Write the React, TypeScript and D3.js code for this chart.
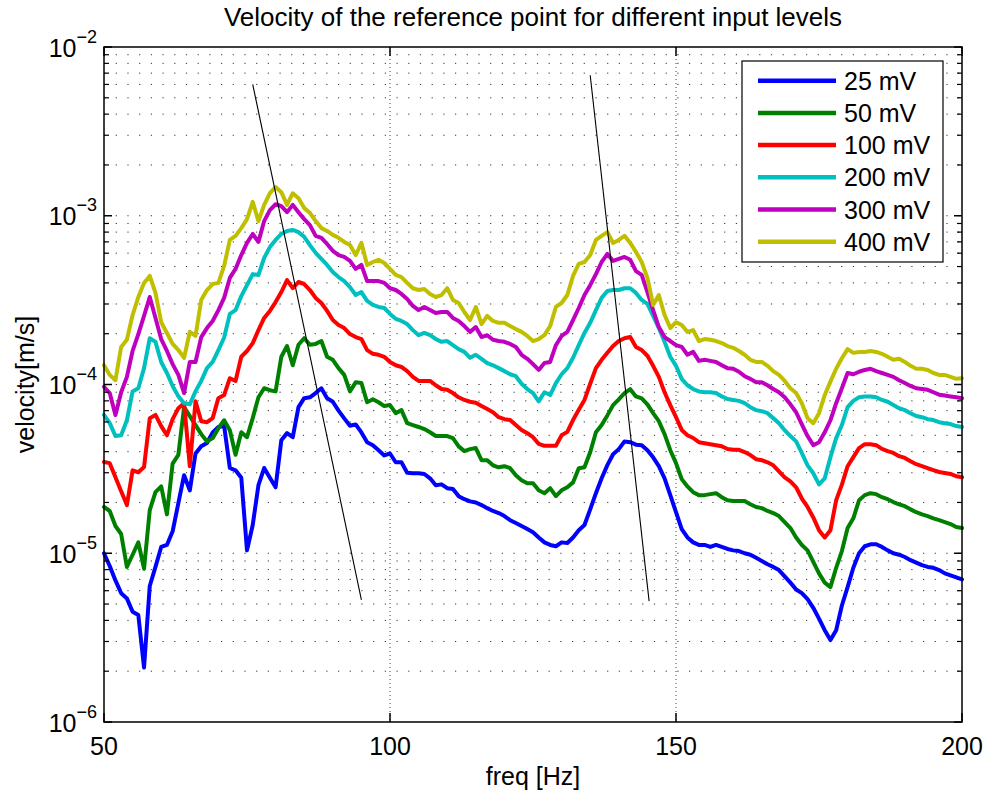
import React from "react";
import * as d3 from "d3";

// frequency axis, 1 Hz steps
const freq: number[] = d3.range(50, 201, 1);

const levels = ["25 mV", "50 mV", "100 mV", "200 mV", "300 mV", "400 mV"];
const colors = ["#0000ff", "#008000", "#ff0000", "#00bfbf", "#bf00bf", "#bfbf00"];

// velocity in µm/s (×1e-6 m/s), one value per Hz from 50 to 200
const v25 = [
  10.0, 8.4, 6.9, 5.8, 5.4, 4.5, 4.3, 2.1, 6.4, 8.3,
  10.9, 11.2, 13.5, 19.8, 29, 23.6, 39, 43, 45, 52,
  56, 57, 32, 31, 28, 10.4, 14.7, 25.3, 32, 28,
  24.6, 46.8, 51.5, 48.7, 73.4, 83, 84, 89, 95, 83,
  79, 70, 63, 57, 58, 52, 45.5, 43.7, 40.8, 38,
  39, 34.6, 34.6, 30, 29.8, 29.8, 29.5, 27.8, 25.3, 25.6,
  24.3, 24, 21.8, 20.9, 20.3, 20, 19.3, 18.5, 17.8, 17.3,
  16.6, 15.7, 15.1, 14.5, 13.9, 13.3, 12.4, 11.6, 11.2, 11.0,
  11.6, 11.5, 12.4, 13.7, 14.7, 18.2, 22.7, 27.8, 33.3, 38.6,
  41.4, 46, 45.5, 44, 43.7, 40.8, 37, 32.8, 27.8, 22.1,
  17.5, 13.9, 12.4, 11.6, 11.2, 11.2, 10.9, 11.2, 10.9, 10.6,
  10.4, 10.3, 10.0, 9.8, 9.4, 9.0, 8.6, 8.3, 7.95, 7.3,
  6.7, 6.1, 5.8, 5.35, 4.75, 4.1, 3.5, 3.06, 3.5, 4.9,
  6.3, 8.2, 10, 11, 11.3, 11.3, 10.9, 10.4, 10, 9.8,
  9.5, 9.1, 8.8, 8.5, 8.3, 8.2, 7.95, 7.6, 7.4, 7.2,
  7.0,
];
const v50 = [
  18.8, 17.8, 14.5, 13.0, 8.3, 9.8, 11.6, 8.1, 18.0, 23.0,
  24.9, 17.0, 34, 38.3, 73.4, 65, 57.5, 50.8, 46.0, 48.1,
  55.1, 61.4, 53.6, 38.3, 52.1, 48.7, 63.2, 84, 95, 92.5,
  91, 146, 169, 130, 172, 188, 172, 174, 181, 146,
  140, 125, 114, 91, 103, 102, 78.5, 81.7, 78.5, 74.5,
  75.5, 67.6, 70.5, 59, 57.5, 56, 54.4, 52.1, 49.5, 49.5,
  49.5, 48.1, 43, 40.3, 41.4, 42, 35.6, 35.6, 33.2, 32.3,
  32.8, 31.9, 29, 27.1, 26, 26, 23.6, 22.7, 24.3, 21.8,
  23.6, 24.6, 26.3, 31.9, 32.3, 39.7, 52.1, 57.5, 65.6, 75.5,
  81.7, 88.9, 93.8, 85, 82.8, 76.3, 67.6, 60.6, 50.8, 40.8,
  34.2, 27.5, 24.9, 23.0, 22.1, 22.1, 22.4, 22.7, 21.5, 20.6,
  20.4, 20.4, 20.4, 19.5, 18.8, 18.5, 17.8, 17.3, 16.6, 15.3,
  14.1, 12.4, 11.2, 10.4, 8.9, 7.6, 6.7, 6.3, 8.2, 10.3,
  14.1, 16.1, 20.6, 22.1, 22.7, 22.4, 21.5, 20.9, 20.1, 19.5,
  19.0, 18.2, 17.5, 17.0, 16.6, 16.1, 15.7, 15.3, 14.9, 14.3,
  14.1,
];
const v100 = [
  34.7, 34.2, 28.2, 23.3, 19.3, 31, 30.2, 32.4, 63.2, 66,
  56.7, 50, 62.3, 72.4, 77.5, 32.8, 79.5, 60.6, 59.8, 63.2,
  83, 86.6, 109, 105, 146, 158, 176, 210, 248, 273,
  308, 353, 416, 372, 405, 394, 363, 326, 304, 273,
  241, 225, 216, 199, 191, 186, 160, 152, 150, 146,
  136, 130, 127, 120, 111, 105, 105, 105, 99, 94,
  93, 89, 84, 81, 79, 78, 74.5, 71.5, 68.5, 64,
  62.3, 61.6, 57.5, 53.8, 51.5, 48.7, 44.5, 43.3, 43.3, 43.3,
  50, 52.4, 61.6, 70.8, 81, 101, 125, 140, 154, 169,
  181, 188, 191, 167, 160, 148, 129, 111, 90, 75.5,
  64, 53.8, 50, 48.2, 45.5, 44.9, 44.3, 43.7, 43.1, 41.5,
  41, 41, 39.8, 38.2, 36.1, 35.6, 34.6, 33.2, 30.6, 28.2,
  26.7, 24.6, 21.1, 18.8, 16.3, 13.7, 12.4, 13.7, 20.6, 25.5,
  32.8, 37.1, 42, 44.3, 44.3, 43.7, 41.5, 40.3, 39.3, 37.6,
  36.7, 35.1, 33.7, 32.8, 31.9, 31.1, 30.3, 29.9, 29.5, 28.6,
  28.2,
];
const v200 = [
  66, 59, 49.5, 50, 61.4, 91, 95, 125, 188, 179,
  136, 117, 98, 85, 77.5, 76.3, 91, 105, 125, 136,
  160, 190, 262, 276, 334, 388, 451, 445, 563, 652,
  719, 780, 813, 825, 800, 750, 670, 603, 555, 511,
  464, 433, 410, 378, 339, 353, 313, 296, 288, 284,
  262, 245, 238, 228, 210, 196, 202, 196, 186, 179,
  181, 171, 162, 156, 144, 150, 142, 134, 130, 125,
  120, 115, 112, 101, 94, 89, 79.5, 90, 86.6, 102,
  115, 125, 144, 171, 202, 232, 276, 326, 358, 363,
  363, 372, 372, 349, 317, 300, 255, 216, 179, 146,
  129, 108, 99, 94, 91, 90, 90, 89, 85, 82,
  81, 80, 77.5, 73.4, 70.5, 69.5, 67.6, 63.2, 59, 53.6,
  49.5, 46, 39.2, 33.2, 29.8, 25.6, 27.8, 37.1, 48.1, 57.5,
  73.4, 80, 84, 85, 85, 84, 81, 79, 75.5, 72.4,
  70.5, 67.6, 65, 64, 62.3, 61.6, 59.8, 59, 58.3, 56.7,
  56,
];
const v300 = [
  97, 89, 66, 90, 111, 158, 199, 255, 330, 248,
  186, 158, 132, 114, 89, 136, 136, 191, 216, 238,
  276, 326, 428, 484, 585, 690, 780, 700, 930, 1080,
  1170, 1140, 1050, 1160, 1050, 955, 880, 760, 740, 680,
  620, 585, 570, 540, 484, 511, 410, 410, 410, 400,
  372, 363, 344, 321, 292, 276, 288, 276, 265, 269,
  269, 248, 238, 222, 205, 219, 191, 196, 184, 181,
  179, 174, 167, 150, 142, 132, 122, 134, 136, 171,
  194, 205, 241, 284, 339, 388, 451, 532, 594, 540,
  555, 570, 548, 470, 446, 353, 276, 219, 191, 181,
  171, 167, 150, 156, 138, 140, 138, 136, 130, 125,
  124, 119, 112, 108, 103, 103, 99, 94, 90, 84,
  76.3, 68.5, 58, 49.5, 43.7, 45.5, 52.1, 61.4, 77.5, 95,
  117, 115, 119, 122, 124, 120, 117, 114, 111, 106,
  102, 98, 95, 94, 93, 90, 87, 86, 85, 84,
  83,
];
const v400 = [
  130, 114, 106, 167, 184, 258, 330, 400, 440, 349,
  234, 202, 174, 160, 144, 205, 194, 317, 363, 394,
  400, 504, 719, 760, 845, 955, 1210, 930, 1160, 1360,
  1480, 1380, 1160, 1360, 1270, 1110, 1040, 930, 845, 813,
  770, 740, 700, 670, 585, 690, 511, 532, 548, 525,
  485, 446, 433, 400, 372, 363, 368, 344, 330, 339,
  372, 317, 304, 269, 241, 288, 228, 255, 238, 232,
  232, 222, 213, 205, 194, 181, 186, 196, 222, 288,
  304, 339, 440, 518, 532, 585, 719, 760, 800, 690,
  719, 760, 690, 610, 532, 428, 296, 339, 258, 216,
  234, 225, 205, 210, 181, 186, 184, 181, 176, 169,
  165, 158, 150, 140, 136, 136, 129, 120, 114, 105,
  95, 89, 77.5, 63.2, 59, 67.6, 86.6, 104, 124, 143,
  162, 154, 156, 156, 158, 156, 152, 146, 140, 142,
  136, 129, 124, 124, 122, 117, 114, 114, 111, 108,
  109,
];

// thin black guide lines: [freq Hz, velocity µm/s] end points
const guideA = [[76, 6000], [95, 5.3]];
const guideB = [[135, 6800], [145.3, 5.2]];

const xTicks = [50, 100, 150, 200];
const yDecades = [-6, -5, -4, -3, -2];

const FONT = "'Liberation Sans', Arial, Helvetica, sans-serif";

export default function App() {
  const W = 986, H = 797;
  const L = 104, R = 962, T = 47, B = 722;
  const x = d3.scaleLinear().domain([50, 200]).range([L, R]);
  const y = d3.scaleLog().domain([1e-6, 1e-2]).range([B, T]);
  const series = [v25, v50, v100, v200, v300, v400];

  const line = d3
    .line<number>()
    .x((_, i) => x(freq[i]))
    .y((d) => y(d * 1e-6));
  const guide = d3
    .line<number[]>()
    .x((d) => x(d[0]))
    .y((d) => y(d[1] * 1e-6));

  const minorVals: number[] = [];
  for (let e = -6; e < -2; e++) for (let k = 2; k <= 9; k++) minorVals.push(k * Math.pow(10, e));
  const gridY = [...minorVals, ...yDecades.slice(1, -1).map((e) => Math.pow(10, e))];

  const legendX = 742, legendY = 61, legendW = 201, legendH = 201;
  const rowY0 = 80.7, rowStep = 32.2;

  return (
    <svg
      width={W}
      height={H}
      style={{ position: "absolute", left: 0, top: 0, background: "#fff" }}
      fontFamily={FONT}
    >
      <rect x={0} y={0} width={W} height={H} fill="#fff" />
      {/* grid */}
      <g stroke="#000" strokeWidth={1} fill="none">
        {gridY.map((v, i) => (
          <line key={"gy" + i} x1={L} x2={R} y1={y(v)} y2={y(v)} strokeDasharray="1.2 10.5" opacity={0.8} />
        ))}
        {xTicks.slice(1, -1).map((t) => (
          <line key={"gx" + t} x1={x(t)} x2={x(t)} y1={T} y2={B} strokeDasharray="1 3" opacity={0.75} />
        ))}
      </g>
      {/* data */}
      <g fill="none" strokeWidth={4} strokeLinejoin="round" strokeLinecap="round">
        {series.map((s, i) => (
          <path key={"s" + i} d={line(s) || ""} stroke={colors[i]} />
        ))}
      </g>
      {/* guide lines */}
      <g stroke="#000" strokeWidth={1.1} fill="none">
        <path d={guide(guideA) || ""} />
        <path d={guide(guideB) || ""} />
      </g>
      {/* axes box and ticks */}
      <g stroke="#000" strokeWidth={1.5} fill="none">
        <rect x={L} y={T} width={R - L} height={B - T} />
        {xTicks.map((t) => (
          <g key={"xt" + t}>
            <line x1={x(t)} x2={x(t)} y1={B} y2={B - 9} />
            <line x1={x(t)} x2={x(t)} y1={T} y2={T + 9} />
          </g>
        ))}
        {yDecades.map((e) => (
          <g key={"yt" + e}>
            <line x1={L} x2={L + 8} y1={y(Math.pow(10, e))} y2={y(Math.pow(10, e))} />
            <line x1={R} x2={R - 8} y1={y(Math.pow(10, e))} y2={y(Math.pow(10, e))} />
          </g>
        ))}
        {minorVals.map((v, i) => (
          <g key={"ym" + i} strokeWidth={1.2}>
            <line x1={L} x2={L + 5} y1={y(v)} y2={y(v)} />
            <line x1={R} x2={R - 5} y1={y(v)} y2={y(v)} />
          </g>
        ))}
      </g>
      {/* tick labels */}
      <g fill="#000" fontSize={25}>
        {xTicks.map((t) => (
          <text key={"xl" + t} x={x(t)} y={755} textAnchor="middle">
            {t}
          </text>
        ))}
        {yDecades.map((e) => (
          <text key={"yl" + e} x={97} y={y(Math.pow(10, e)) + 9.5} textAnchor="end">
            <tspan>10</tspan>
            <tspan dy={-14} fontSize={18}>{"\u2212" + Math.abs(e)}</tspan>
          </text>
        ))}
      </g>
      {/* titles */}
      <text x={(L + R) / 2} y={26} textAnchor="middle" fontSize={26} fill="#000">
        Velocity of the reference point for different input levels
      </text>
      <text x={(L + R) / 2} y={785} textAnchor="middle" fontSize={25} fill="#000">
        freq [Hz]
      </text>
      <text
        transform={`translate(34, ${(T + B) / 2}) rotate(-90)`}
        textAnchor="middle"
        fontSize={25}
        fill="#000"
      >
        velocity[m/s]
      </text>
      {/* legend */}
      <g>
        <rect x={legendX} y={legendY} width={legendW} height={legendH} fill="#fff" stroke="#000" strokeWidth={1.2} />
        {levels.map((lab, i) => (
          <g key={"lg" + i}>
            <line
              x1={758}
              x2={836}
              y1={rowY0 + i * rowStep}
              y2={rowY0 + i * rowStep}
              stroke={colors[i]}
              strokeWidth={4.5}
            />
            <text x={844} y={rowY0 + i * rowStep + 9} fontSize={25} fill="#000">
              {lab}
            </text>
          </g>
        ))}
      </g>
    </svg>
  );
}
